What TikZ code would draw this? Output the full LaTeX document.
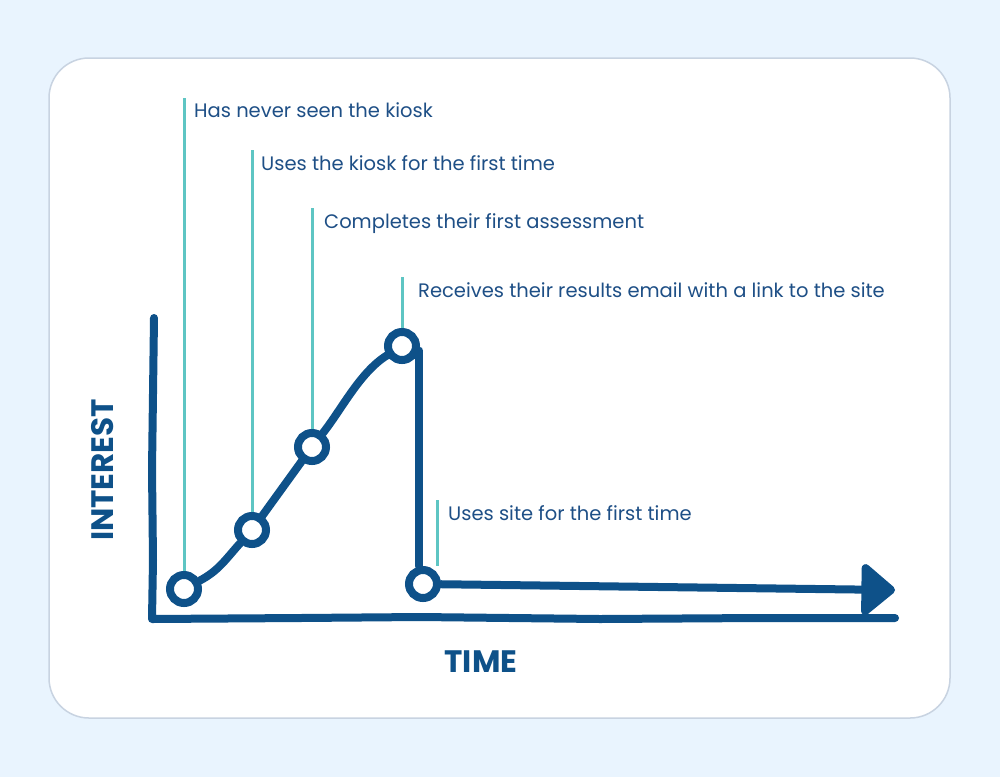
\documentclass[tikz,border=0pt]{standalone}
\usepackage{fontspec}
\setmainfont{Poppins}
\usetikzlibrary{arrows.meta,positioning}
\definecolor{bgblue}{HTML}{E9F4FE}
\definecolor{cardline}{HTML}{C8D3E1}
\definecolor{inkblue}{HTML}{0E5189}
\definecolor{tealline}{HTML}{5EC5C3}
\definecolor{textblue}{HTML}{1E4F86}

\begin{document}
\begin{tikzpicture}[x=1pt,y=-1pt,
  stage/.style={circle,draw=inkblue,fill=white,line width=8pt,minimum size=28pt,inner sep=0pt},
  curve/.style={draw=inkblue,line width=8pt,line cap=round,line join=round},
  marker/.style={draw=tealline,line width=3pt},
  caption/.style={anchor=base west,inner sep=0pt,text=textblue,font=\fontsize{19.5}{23}\selectfont},
  axislabel/.style={text=inkblue,inner sep=0pt,font=\fontsize{31}{36}\selectfont\bfseries}]
\fill[bgblue] (0,0) rectangle (1000,777);
\draw[cardline,line width=1.5pt,fill=white,rounded corners=40pt] (49,58) rectangle (950,718);
\draw[curve] (154,318) -- (152,470) -- (153,560) -- (152,619) -- (300,618) -- (420,617) -- (600,619) -- (760,618) -- (895,618);
\node[axislabel,rotate=90] (ylab) at (103,470) {INTEREST};
\node[axislabel] (xlab) at (481,662) {TIME};
\node[stage] (c1) at (184,589) {};
\node[stage] (c2) at (252,530) {};
\node[stage] (c3) at (312,447) {};
\node[stage] (c4) at (402,346) {};
\node[stage] (c5) at (423,584) {};
\draw[curve] (c1) to[out=28,in=228] (c2);
\draw[curve] (c2) -- (c3);
\draw[curve] (c3) to[out=52,in=212,looseness=0.8] (c4);
\draw[curve] (c4.-15) -- (c4.-15 |- c5.north);
\coordinate (tip) at (895,590);
\draw[curve,-{Triangle[length=36pt 0 0,width=58pt 0 0,round]}] (c5) -- (tip);
\coordinate (m1) at (184,98);
\coordinate (m2) at (252,150);
\coordinate (m3) at (312,208);
\coordinate (m4) at (402,277);
\coordinate (m5) at (437,500);
\draw[marker] (m1) -- (c1); \draw[marker] (m2) -- (c2); \draw[marker] (m3) -- (c3);
\draw[marker] (m4) -- (c4); \draw[marker] (m5) -- (m5 |- c5.north);
\node[caption] (t1) at (194,117) {Has never seen the kiosk};
\node[caption] (t2) at (261,170) {Uses the kiosk for the first time};
\node[caption] (t3) at (324,228) {Completes their first assessment};
\node[caption] (t4) at (418,297) {Receives their results email with a link to the site};
\node[caption] (t5) at (448,520) {Uses site for the first time};
\end{tikzpicture}
\end{document}
